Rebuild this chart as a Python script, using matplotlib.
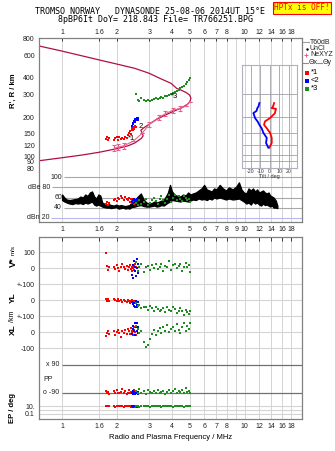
import numpy as np
import matplotlib
matplotlib.use('Agg')
import matplotlib.pyplot as plt
from matplotlib.lines import Line2D
from matplotlib.ticker import NullLocator

plt.rcParams['font.family'] = ['Liberation Sans', 'DejaVu Sans']

# ---- echo clusters (frequency MHz, range km, V* m/s, YL km, XL km, PP deg, EP deg, amplitude dB)
f_red = [1.75, 1.77, 1.79, 1.81, 1.93, 1.96, 1.99, 2.02, 2.05, 2.10, 2.14, 2.18, 2.22,
         2.26, 2.30, 2.33, 2.36, 2.38, 2.41, 2.43, 2.45, 2.47, 2.49, 2.51, 2.53]
h_red = [136, 141, 133, 138, 132, 137, 141, 134, 139, 136, 138, 135, 140,
         137, 146, 150, 155, 148, 160, 165, 158, 168, 163, 172, 167]
vs_red = [95, 15, -10, 5, 10, -5, 20, 0, -15, 10, 25, 5, -5, 15, -10, 5, 20, -5, 10, -20, 0, 15, -10, 30, 5]
yl_red = [5, -3, 8, -5, 10, 0, -8, 6, -2, 4, -10, 2, -5, -12, 0, -6, -15, -8, 3, -10, -18, -5, -12, -20, -8]
xl_red = [-25, -5, 10, -10, 5, -15, 0, 15, -5, -30, 8, -3, 12, -10, 20, 5, -12, 25, -8, 10, -20, 15, 30, 0, -15]
pp_red = [-75, -90, -85, -95, -80, -90, -70, -88, -92, -85, -65, -90, -78, -95, -88, -72, -90, -85,
          -82, -92, -76, -88, -70, -90, -84]
ep_red = [11, 10, 12, 10, 11, 9, 10, 12, 10, 11, 10, 9, 11, 10, 12, 10, 11, 9, 10, 12, 10, 11, 10, 9, 11]
amp_red = [48, 52, 46, 50, 55, 58, 54, 60, 57, 62, 59, 56, 61, 58, 55, 60, 52, 57, 54, 50, 58, 48, 53, 56, 52]

f_blue = [2.42, 2.44, 2.46, 2.48, 2.50, 2.52, 2.54, 2.56, 2.58, 2.60, 2.62]
h_blue = [172, 180, 176, 186, 182, 192, 188, 198, 195, 191, 197]
vs_blue = [-40, 20, -60, 45, -20, 10, -50, 60, 0, -30, 25]
yl_blue = [-10, -25, -15, -35, -20, -40, -5, -30, -45, -12, -28]
xl_blue = [-10, 20, 40, 5, 60, -15, 30, 55, 10, -5, 35]
pp_blue = [-88, -95, -80, -92, -85, -98, -75, -90, -84, -95, -86]
ep_blue = [10, 11, 9, 10, 12, 10, 11, 10, 9, 10, 11]
amp_blue = [52, 56, 50, 58, 54, 55, 53, 57, 51, 56, 54]

f_green = [2.55, 2.60, 2.65, 2.72, 2.80, 2.88, 2.95, 3.02, 3.10, 3.18, 3.26, 3.34, 3.42, 3.50, 3.58,
           3.66, 3.75, 3.85, 3.95, 4.05, 4.15, 4.25, 4.35, 4.45, 4.55, 4.65, 4.75, 4.85, 4.95, 5.05]
h_green = [300, 272, 268, 278, 270, 266, 272, 268, 270, 274, 278, 276, 282, 286, 280,
           290, 288, 296, 300, 305, 312, 318, 322, 332, 340, 350, 360, 372, 385, 400]
vs_green = [40, -15, 10, 25, -25, 5, 15, -10, 20, 0, 30, -5, 10, 25, -20, 15, 5, 45, -10, 20,
            30, 0, 15, 25, -15, 10, 35, 5, 20, -25]
yl_green = [-20, -35, -30, -50, -40, -45, -60, -35, -50, -65, -45, -55, -70, -60, -50, -75, -40,
            -60, -70, -45, -55, -80, -65, -50, -70, -90, -60, -75, -85, -65]
xl_green = [40, 20, -5, 10, -60, -95, -80, -40, -10, 15, -20, 5, 25, -5, 30, 10, 45, 0, 20, 35,
            5, 50, 15, -5, 30, 60, 10, 40, 20, 55]
pp_green = [-75, -88, -65, -90, -80, -95, -70, -85, -92, -78, -88, -68, -90, -82, -75, -95, -85,
            -70, -88, -80, -65, -92, -78, -86, -72, -90, -60, -84, -76, -88]
ep_green = [10, 11, 9, 12, 10, 11, 10, 9, 12, 10, 11, 10, 12, 9, 10, 11, 10, 12, 10, 9, 11, 10,
            12, 10, 11, 9, 10, 12, 11, 10]
amp_green = [50, 46, 55, 48, 52, 58, 45, 50, 56, 60, 53, 48, 57, 62, 55, 50, 58, 64, 52, 60,
             65, 56, 62, 58, 54, 63, 60, 55, 58, 52]

# virtual-height curve and NeXYZ profile
f_vh = [0.75, 1.0, 1.3, 1.6, 2.0, 2.3, 2.5, 2.62, 2.72, 2.78, 2.75, 2.7, 2.8, 3.0, 3.3, 3.7, 4.1,
        4.5, 4.85, 5.0, 5.08, 5.0, 4.8, 4.5, 4.24, 3.95, 3.44, 3.0, 2.5, 2.0, 1.6, 1.0, 0.75]
h_vh = [92, 97, 102, 107, 114, 120, 126, 132, 137, 143, 150, 158, 165, 176, 192, 208, 222,
        235, 250, 262, 279, 295, 308, 322, 333, 364, 397, 435, 475, 512, 551, 645, 706]
f_ne = [1.93, 2.03, 2.18, 2.45, 2.75, 3.0, 3.4, 3.68, 4.05, 4.45, 4.8, 5.0]
h_ne = [115, 117, 120, 130, 150, 176, 199, 212, 226, 233, 245, 262]
ne_err = [6, 6, 6, 0, 0, 8, 9, 9, 10, 10, 0, 0]

# tilt profiles (inset)
h_tilt_x = [255, 240, 233, 230, 222, 213, 204, 195, 184, 173, 162, 150, 137, 125, 115]
tilt_x = [4.6, 3.5, 2.1, 6.7, 6.0, 5.6, 3.0, 0.3, -5.0, -6.1, -3.0, 0.3, 2.1, 2.1, -0.4]
h_tilt_y = [255, 240, 233, 222, 213, 204, 195, 184, 173, 162, 150, 137, 125, 115]
tilt_y = [-11, -12, -13.2, -14, -17.4, -16.5, -15.6, -13, -11, -8.5, -6.8, -3.2, -3.9, -1.5]

# noise trace (dBe)
f_noise = [1.00, 1.03, 1.06, 1.10, 1.14, 1.18, 1.22, 1.26, 1.30, 1.34, 1.38, 1.42, 1.46, 1.50,
           1.54, 1.58, 1.62, 1.66, 1.70, 1.74, 1.80, 1.86, 1.92, 1.98, 2.04, 2.10, 2.16, 2.22,
           2.28, 2.34, 2.40, 2.50, 2.60, 2.70, 2.80, 2.90, 3.00, 3.10, 3.20, 3.30, 3.40, 3.50,
           3.60, 3.70, 3.80, 3.90, 4.00, 4.15, 4.30, 4.45, 4.60, 4.75, 4.90, 5.05, 5.20, 5.40,
           5.60, 5.80, 6.00, 6.20, 6.40, 6.60, 6.80, 7.00, 7.30, 7.60, 7.90, 8.20, 8.60, 9.00,
           9.30, 9.60, 9.90, 10.2, 10.5, 10.8, 11.1, 11.4, 11.7, 12.0, 12.3, 12.6, 12.9, 13.2,
           13.5, 13.8, 14.1, 14.4, 14.8, 15.1]
lo_noise = [55, 52, 50, 48, 47, 49, 48, 49, 47, 50, 48, 50, 52, 46, 44, 46, 44, 42, 41, 40, 40, 39,
            40, 41, 38, 39, 40, 38, 39, 38, 41, 42, 44, 45, 43, 42, 42, 43, 44, 42, 43, 45, 44, 47,
            50, 52, 55, 54, 53, 52, 54, 53, 52, 54, 56, 55, 58, 56, 57, 55, 58, 56, 60, 58, 60, 58,
            56, 58, 56, 57, 58, 55, 52, 48, 50, 46, 52, 48, 50, 46, 44, 48, 45, 46, 44, 42, 44, 40,
            40, 39]
hi_noise = [66, 60, 56, 55, 56, 57, 58, 62, 60, 66, 63, 70, 72, 62, 58, 66, 64, 50, 48, 46, 47, 45,
            44, 46, 44, 45, 44, 43, 44, 45, 50, 55, 62, 68, 56, 50, 48, 49, 52, 50, 52, 54, 55, 62,
            70, 85, 72, 65, 63, 62, 66, 64, 70, 66, 68, 70, 74, 78, 85, 76, 74, 72, 78, 76, 85, 78,
            74, 80, 76, 82, 90, 76, 70, 68, 78, 74, 78, 72, 76, 70, 72, 74, 70, 68, 70, 64, 62, 60,
            54, 44]

freq_ticks = [1, 1.6, 2, 3, 4, 5, 6, 7, 8, 10, 12, 14, 16, 18]
freq_ticks9 = [1, 1.6, 2, 3, 4, 5, 6, 7, 8, 9, 10, 12, 14, 16, 18]
height_ticks = [80, 90, 100, 120, 150, 200, 300, 400, 600, 800]

RED, BLUE, GREEN = '#ff0000', '#0000ff', '#1e8c1e'
CRIMSON, PINK = '#b01040', '#e8608c'
GRID, FRAME = '#d4d4d4', '#808080'

W, H = 335, 451
fig = plt.figure(figsize=(W / 100, H / 100), dpi=100)


def box(x0, y0, x1, y1):
    return [x0 / W, 1 - y1 / H, (x1 - x0) / W, (y1 - y0) / H]


def fx(x):
    return x / W


def fy(y):
    return 1 - y / H


FMIN, FMAX = 0.748, 20.6

ax1 = fig.add_axes(box(39, 38, 302, 172))
ax2 = fig.add_axes(box(39, 172, 302, 222))
ax3 = fig.add_axes(box(39, 237, 302, 419))

for ax in (ax1, ax2, ax3):
    ax.set_xscale('log')
    ax.set_xlim(FMIN, FMAX)
    ax.xaxis.set_minor_locator(NullLocator())
    ax.yaxis.set_minor_locator(NullLocator())
    for s in ax.spines.values():
        s.set_color(FRAME)
        s.set_linewidth(0.9)
    for f in freq_ticks9:
        ax.axvline(f, color=GRID, lw=0.7, zorder=0)
    ax.tick_params(labelsize=5, colors='#202020', length=2, width=0.6, pad=1.5)

# ---- top panel: range vs frequency
ax1.set_yscale('log')
ax1.set_ylim(75.3, 814)
ax1.yaxis.set_minor_locator(NullLocator())
ax1.set_yticks(height_ticks)
ax1.set_yticklabels([str(v) for v in height_ticks])
ax1.xaxis.tick_top()
ax1.set_xticks(freq_ticks)
ax1.set_xticklabels([str(v) for v in freq_ticks])
ax1.tick_params(axis='x', direction='in', length=2.5, pad=1.5)
ax1.tick_params(axis='y', length=0, pad=3)
ax1.spines['bottom'].set_visible(False)

ax1.plot(f_vh, h_vh, color=CRIMSON, lw=0.9, zorder=2)
ax1.errorbar(f_ne, h_ne, yerr=ne_err, color=PINK, lw=0.8, elinewidth=0.8, capsize=1.3,
             capthick=0.8, zorder=2)
for f, h, c in ((f_red, h_red, RED), (f_blue, h_blue, BLUE), (f_green, h_green, GREEN)):
    ax1.plot(f, h, 's', color=c, ms=1.7, mew=0, zorder=3)
ax1.text(2.28, 137, '*1', fontsize=5.5, color='k', va='center', zorder=4)
ax1.text(2.64, 168, '2', fontsize=5.5, color='k', va='center', zorder=4)
ax1.text(3.95, 287, '*3', fontsize=5.5, color='k', va='center', zorder=4)

# ---- dBe panel
ax2.set_ylim(11.5, 110.5)
ax2.set_yticks([])
ax2.set_xticks(freq_ticks9)
ax2.set_xticklabels([str(v) for v in freq_ticks9])
ax2.tick_params(axis='x', length=0, pad=3)
ax2.spines['top'].set_visible(False)
for lev, lab, xr in ((100, '100', 1.0), (80, 'dBe 80', 0.86), (60, '60', 1.0),
                     (40, '40', 1.0), (20, 'dBn 20', 0.85)):
    col = '#b8b8f0' if lev == 20 else '#a8a8a8'
    ax2.hlines(lev, xr * 1.02, FMAX, color=col, lw=0.8, zorder=1)
    ax2.text(xr, lev, lab, ha='right', va='center', fontsize=5, color='#202020')
ax2.fill_between(f_noise, lo_noise, hi_noise, color='k', lw=0.9, zorder=2)
for f, a, c in ((f_red, amp_red, RED), (f_blue, amp_blue, BLUE), (f_green, amp_green, GREEN)):
    ax2.plot(f, a, 's', color=c, ms=1.7, mew=0, zorder=3)

# ---- bottom panel: stacked V*, YL, XL, PP, EP
ax3.set_ylim(6, 1146)
ax3.set_xticks(freq_ticks)
ax3.set_xticklabels([str(v) for v in freq_ticks])
ax3.tick_params(axis='x', top=True, bottom=False, direction='in', length=3, pad=3)
ax3.tick_params(axis='y', length=0, pad=3)
ax3.set_yticks([1050, 950, 850, 750, 650, 550, 450, 85, 40])
ax3.set_yticklabels(['100', '0', '+-100', '0', '+-100', '0', '-100', '10.', '0.1'])
for lev in (1050, 950, 850, 750, 650, 550, 450, 85, 62, 40):
    ax3.axhline(lev, color=GRID, lw=0.8, zorder=1)
for lev, lab in ((346, 'x 90'), (169, 'o -90')):
    ax3.hlines(lev, 1.0, FMAX, color='#707070', lw=0.9, zorder=1)
    ax3.text(0.97, lev, lab, ha='right', va='center', fontsize=5, color='#202020')
ax3.text(0.84, 252, 'PP', ha='center', va='center', fontsize=5, color='#202020')

for f, v, yl, xl, pp, ep, c in (
        (f_red, vs_red, yl_red, xl_red, pp_red, ep_red, RED),
        (f_blue, vs_blue, yl_blue, xl_blue, pp_blue, ep_blue, BLUE),
        (f_green, vs_green, yl_green, xl_green, pp_green, ep_green, GREEN)):
    ax3.plot(f, 950 + np.array(v), 's', color=c, ms=1.7, mew=0, zorder=3)
    ax3.plot(f, 750 + np.array(yl), 's', color=c, ms=1.7, mew=0, zorder=3)
    ax3.plot(f, 550 + np.array(xl), 's', color=c, ms=1.7, mew=0, zorder=3)
    ax3.plot(f, 257.5 + 0.983 * np.array(pp), 's', color=c, ms=1.7, mew=0, zorder=3)
    ax3.plot(f, 62.5 + 22.5 * np.log10(ep), 's', color=c, ms=1.7, mew=0, zorder=3)

ax3.set_xlabel('Radio and Plasma Frequency / MHz', fontsize=5.5, labelpad=3)

# ---- tilt inset
axi = fig.add_axes(box(242, 65, 297, 168))
axi.patch.set_alpha(0)
axi.set_yscale('log')
axi.set_ylim(80.8, 503)
axi.set_xlim(-29.5, 29)
axi.yaxis.set_minor_locator(NullLocator())
axi.set_yticks([80, 90, 100, 120, 150, 200, 300])
axi.set_yticklabels([])
axi.set_xticks([-20, -10, 0, 10, 20])
axi.set_xticklabels(['-20', '-10', '0', '10', '20'])
axi.tick_params(length=0, labelsize=3.8, pad=1, colors='#303030')
axi.grid(True, color='#a0a0a8', lw=0.6)
for s in axi.spines.values():
    s.set_color('#b0b0c0')
    s.set_linewidth(0.8)
axi.set_xlabel('Tilt / deg', fontsize=4, labelpad=0, color='#303030')
axi.plot(tilt_x, h_tilt_x, color=RED, lw=1.3)
axi.plot(tilt_y, h_tilt_y, color=BLUE, lw=1.3)

# ---- legend on the right
def fig_line(x0, x1, y, **kw):
    fig.add_artist(Line2D([fx(x0), fx(x1)], [fy(y), fy(y)], transform=fig.transFigure, **kw))


lkw = dict(fontsize=5, color='#202020', va='center')
fig_line(303, 309, 42, color='#a0a0a0', lw=0.8)
fig.text(fx(310), fy(42), 'T60dB', **lkw)
fig.add_artist(Line2D([fx(307)], [fy(49)], marker='.', ms=1.5, color='k', transform=fig.transFigure))
fig.text(fx(310), fy(49), 'UnCl', **lkw)
fig.add_artist(Line2D([fx(306)], [fy(55)], marker='+', ms=3, mew=0.7, color=PINK,
                      transform=fig.transFigure))
fig.text(fx(310), fy(55), 'NeXYZ', **lkw)
fig_line(303, 308, 63, color=PINK, lw=0.8)
fig.text(fx(308.5), fy(63), 'Θx', fontsize=5, color='#202020', va='center')
fig_line(317, 322, 63, color='#8080ff', lw=0.8)
fig.text(fx(322.5), fy(63), 'Θy', fontsize=5, color='#202020', va='center')
for y, c, lab in ((73, RED, '*1'), (81, BLUE, '<2'), (89, GREEN, '*3')):
    fig.add_artist(Line2D([fx(307)], [fy(y)], marker='s', ms=2.2, mew=0, color=c,
                          transform=fig.transFigure))
    fig.text(fx(311), fy(y), lab, fontsize=5.5, color='k', va='center')

# ---- axis labels and header
fig.text(fx(13), fy(91), "R', R / km", rotation=90, fontsize=5.5, weight='bold',
         ha='center', va='center')
fig.text(fx(13), fy(262), 'V*', rotation=90, fontsize=6.5, weight='bold', ha='center', va='center')
fig.text(fx(13), fy(250), 'm/s', rotation=90, fontsize=4.5, ha='center', va='center')
fig.text(fx(13), fy(298), 'YL', rotation=90, fontsize=6, weight='bold', ha='center', va='center')
fig.text(fx(13), fy(316), '/km', rotation=90, fontsize=5, ha='center', va='center')
fig.text(fx(13), fy(330), 'XL', rotation=90, fontsize=6, weight='bold', ha='center', va='center')
fig.text(fx(13), fy(408), 'EP / deg', rotation=90, fontsize=5.5, weight='bold',
         ha='center', va='center')

fig.text(fx(150), fy(12), 'TROMSO NORWAY   DYNASONDE 25-08-06 2014UT 15°E',
         family='DejaVu Sans Mono', fontsize=6, ha='center', va='center')
fig.text(fx(155), fy(19.7), '8pBP6It DoY= 218.843 File= TR766251.BPG',
         family='DejaVu Sans Mono', fontsize=6, ha='center', va='center')
fig.text(fx(302), fy(8), 'HPTx is OFF!', family='DejaVu Sans Mono', fontsize=5.6,
         color='red', ha='center', va='center',
         bbox=dict(facecolor='#ffff00', edgecolor='red', pad=1.2, lw=0.8))

fig.savefig('out.png', dpi=100)
